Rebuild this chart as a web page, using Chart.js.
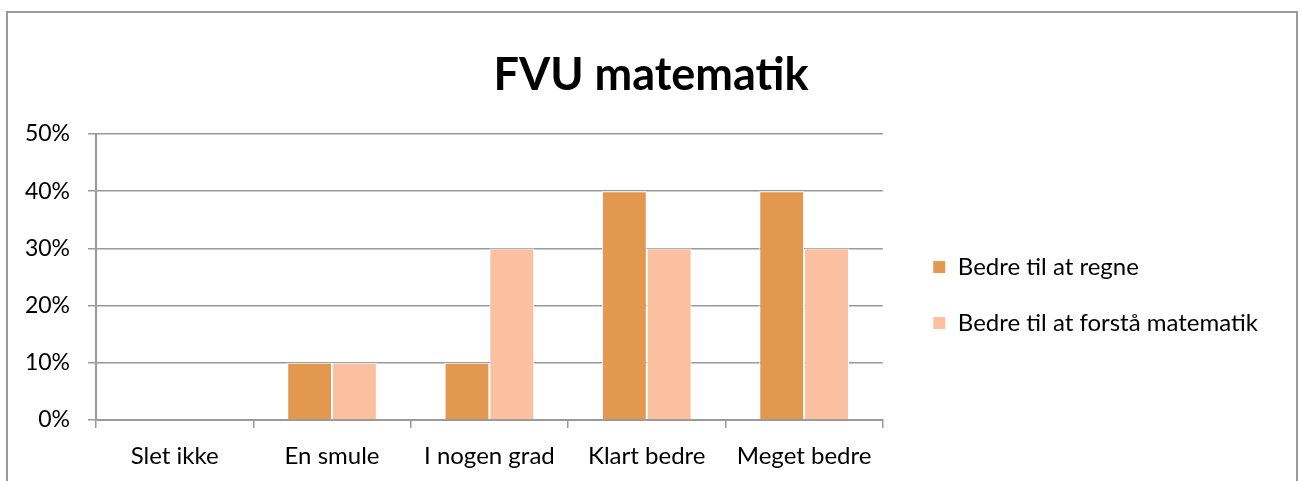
<!DOCTYPE html>
<html>
<head>
<meta charset="utf-8">
<script src="https://cdn.jsdelivr.net/npm/chart.js@4.4.1/dist/chart.umd.min.js"></script>
<style>
  html, body { margin: 0; padding: 0; background: #fff; overflow: hidden; }
  canvas { display: block; }
</style>
</head>
<body>
<canvas id="chart" width="1302" height="481"></canvas>
<script>
const categories = ['Slet ikke', 'En smule', 'I nogen grad', 'Klart bedre', 'Meget bedre'];
const regneValues = [0, 10, 10, 40, 40];
const forstaaValues = [0, 10, 30, 30, 30];
const seriesNames = ['Bedre til at regne', 'Bedre til at forstå matematik'];

const FONT = 'Lato, "Open Sans", sans-serif';

// ramme rundt om diagrammet
const framePlugin = {
    id: 'frame',
    beforeDraw(chart) {
        const ctx = chart.ctx;
        ctx.save();
        ctx.strokeStyle = '#9a9a9a';
        ctx.lineWidth = 2;
        ctx.strokeRect(7, 12, 1290, 520);
        ctx.restore();
    }
};

// usynlig akse, bruges kun som luft i layoutet
const spacer = (width, weight) => ({
    position: 'right',
    display: true,
    weight: weight,
    afterFit: (scale) => { scale.width = width; },
    grid: { display: false },
    border: { display: false },
    ticks: { display: false }
});

const ctx = document.getElementById('chart').getContext('2d');
new Chart(ctx, {
    type: 'bar',
    data: {
        labels: categories,
        datasets: [{
            label: seriesNames[0],
            data: regneValues,
            backgroundColor: '#e39850',
            borderColor: '#ffffff',
            borderWidth: 1,
            barPercentage: 1,
            categoryPercentage: 0.57
        }, {
            label: seriesNames[1],
            data: forstaaValues,
            backgroundColor: '#fac09f',
            borderColor: '#ffffff',
            borderWidth: 1,
            barPercentage: 1,
            categoryPercentage: 0.57
        }]
    },
    options: {
        responsive: false,
        animation: false,
        layout: { padding: { left: 8, right: 8, top: 0, bottom: 0 } },
        plugins: {
            title: {
                display: true,
                text: 'FVU matematik',
                color: '#000',
                font: { family: FONT, size: 45, weight: 'bold' },
                padding: { top: 48, bottom: 32 }
            },
            legend: {
                position: 'right',
                maxWidth: 500,
                title: {
                    display: true,
                    text: ' ',
                    font: { size: 1 },
                    padding: { top: 108, bottom: 0 }
                },
                labels: {
                    color: '#000',
                    font: { family: FONT, size: 24 },
                    boxWidth: 13,
                    boxHeight: 13,
                    padding: 32
                }
            },
            tooltip: { enabled: false }
        },
        scales: {
            x: {
                afterFit: (scale) => { scale.height = 61; },
                grid: {
                    drawOnChartArea: false,
                    offset: true,
                    tickLength: 8,
                    color: '#9a9a9a',
                    lineWidth: 1.5
                },
                border: { color: '#9a9a9a', width: 2 },
                ticks: {
                    color: '#000',
                    font: { family: FONT, size: 24 },
                    padding: 14,
                    maxRotation: 0
                }
            },
            y: {
                min: 0,
                max: 50,
                afterFit: (scale) => { scale.width = 88; },
                grid: {
                    tickLength: 8,
                    color: '#9a9a9a',
                    lineWidth: 1.5
                },
                border: { color: '#9a9a9a', width: 2 },
                ticks: {
                    stepSize: 10,
                    color: '#000',
                    font: { family: FONT, size: 23 },
                    padding: 18,
                    callback: (v) => v + '%'
                }
            },
            gapInner: spacer(18, 0),
            gapOuter: spacer(26, 2000)
        }
    },
    plugins: [framePlugin]
});
</script>
</body>
</html>
